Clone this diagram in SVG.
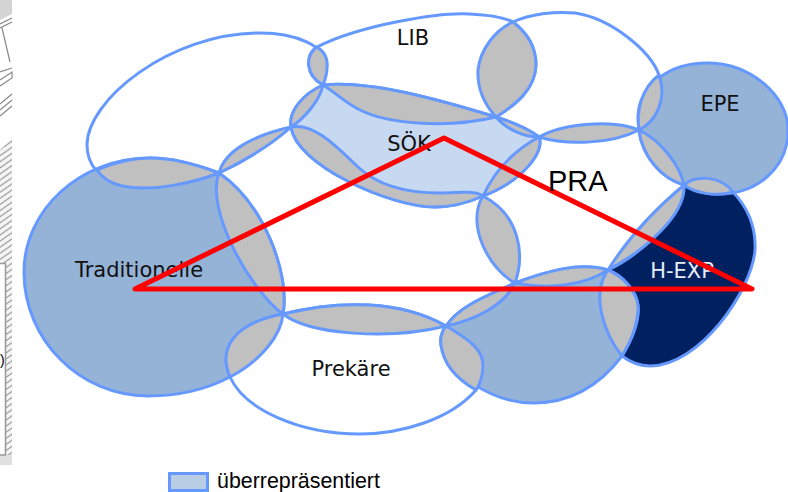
<svg xmlns="http://www.w3.org/2000/svg" width="788" height="492" viewBox="0 0 788 492">
<defs><pattern id="hp" width="6" height="5" patternUnits="userSpaceOnUse" patternTransform="rotate(-35)"><rect width="6" height="5" fill="#f6f6f6"/><path d="M0 2.5H6" stroke="#999" stroke-width="1.2"/></pattern></defs>
<style>
.s{stroke:#6699FF;stroke-width:3;stroke-linejoin:round}
.g{fill:#C0C0C0}.b{fill:#95B3D7}.l{fill:#C6D9F1}.d{fill:#002060}.w{fill:#fff}.n{fill:none}
text{font-family:"Liberation Sans",Arial,sans-serif;fill:#000}
.t{font-family:"DejaVu Sans",sans-serif;font-size:21px;text-anchor:middle;fill:#111}
.h{stroke:#888;stroke-width:1.2;fill:none}
</style>
<rect width="788" height="492" fill="#fff"/>
<g id="hatch">
<path d="M0 0H12V14L0 20Z" fill="#d4d4d4"/>
<path class="h" d="M0 24L12 18M0 28L12 22M2 28L10 62M0 72L12 68M0 80L12 72L12 78L0 86M0 104L12 94M0 110L12 100M0 116L12 106"/>
<rect x="0" y="138" width="12" height="127" fill="url(#hp)"/>
<path d="M12 138L0 150V138Z" fill="#fff"/>
<rect x="5" y="265" width="7" height="200" fill="url(#hp)"/>
<path d="M0 455H12V465H0Z" fill="#e0e0e0"/>
<path d="M-2 263.500H5.500V455H-2" fill="#fff" stroke="#999" stroke-width="1.500"/>
<text x="0" y="365" font-size="14">)</text>
</g>
<g id="topleft"><path class="w s" d="M219 173C190 184 150 192 122 186C100 180 87 165 87 145C87 100 170 33 260 33C295 33 327 45 327 68L323 85L291 127C265 150 240 163 219 173Z"/></g>
<g id="pra-top"><path class="n s" d="M513 22C530 14 555 11 575 13C610 18 650 50 659 75C668 100 655 122 639 130"/></g>
<g id="LIB"><path class="w s" d="M323 85C305 75 305 55 317 47C360 25 440 12 470 14C490 15 505 18 513 22C530 35 536 50 536 65C535 90 515 105 496 117C450 128 390 125 360 110Z"/><text class="t" x="413" y="45">LIB</text></g>
<g id="SOEK"><path class="l s" d="M291 127C288 110 305 93 323 85C370 80 440 100 496 117C515 123 530 130 539 137C545 150 525 180 483 196C465 204 450 207 435 207C390 207 296 165 291 127Z"/><text class="t" x="409" y="151">SÖK</text></g>
<g id="Traditionelle"><path class="b s" d="M219 173C190 162 170 158 150 158C80 158 24 210 24 272C24 340 80 396 148 396C175 396 205 390 230 377C262 360 281 335 283 314C290 275 265 205 219 173Z"/><text class="t" x="139" y="277">Traditionelle</text></g>
<g id="Prekaere"><path class="w s" d="M230 377C228 372 226 366 226 360C226 335 250 320 283 314C340 300 400 300 446 326C470 340 483 350 483 365C483 375 480 384 476 390C450 420 400 434 360 434C300 434 245 410 230 377Z"/><text class="t" x="351" y="376">Prekäre</text></g>
<g id="Mitte"><path class="b s" d="M446 326C460 305 490 295 515 283C550 270 580 262 608 270C630 280 640 300 638 312C635 335 628 345 622 356C600 385 570 403 533 403C490 403 445 370 441 345C440 340 441 332 446 326Z"/></g>
<g id="HEXP"><path class="d s" d="M608 270C640 255 684 215 684 185C695 175 720 175 733 192C750 210 756 230 755 250C752 290 700 366 650 366C640 366 630 362 622 356C632 340 640 320 638 305C636 290 622 275 608 270Z"/><text class="t" x="682" y="278" style="fill:#e8eef8">H-EXP</text></g>
<g id="EPE"><path class="b s" d="M684 185C655 175 638 150 638 118C638 85 670 63 707 63C750 63 788 95 788 130C788 170 755 194 718 194C705 194 692 190 684 185Z"/><text class="t" x="720" y="111">EPE</text></g>
<g id="lenses">
<path class="g s" d="M97 170C115 162 135 158 150 158C170 158 190 162 219 173C190 184 150 192 122 186C110 183 102 178 97 170Z"/>
<path class="g s" d="M219 173C265 205 290 275 283 314C250 290 205 210 219 173Z"/>
<path class="g s" d="M219 173C225 150 255 135 291 127C265 150 240 163 219 173Z"/>
<path class="g s" d="M291 127C288 110 305 93 323 85C320 100 305 118 291 127Z"/>
<path class="g s" d="M323 85C305 75 305 55 317 47C325 52 328 60 327 68C327 75 325 80 323 85Z"/>
<path class="g s" d="M323 85C370 80 440 100 496 117C450 128 390 125 360 110C345 103 335 92 323 85Z"/>
<path class="g s" d="M513 22C530 35 536 50 536 65C535 90 515 105 496 117C485 105 477 90 478 70C480 50 495 30 513 22Z"/>
<path class="g s" d="M496 117C515 123 530 130 539 137C525 137 507 130 496 117Z"/>
<path class="g s" d="M539 137C560 125 610 118 639 130C610 145 565 145 539 137Z"/>
<path class="g s" d="M659 75C668 100 655 122 639 130C636 110 642 88 659 75Z"/>
<path class="g s" d="M639 130C660 140 680 165 684 185C660 178 642 155 639 130Z"/>
<path class="g s" d="M684 185C695 175 720 175 733 192C715 197 695 193 684 185Z"/>
<path class="g s" d="M608 270C630 235 660 205 684 185C686 215 645 250 608 270Z"/>
<path class="g s" d="M608 270C630 280 640 300 638 312C635 335 628 345 622 356C605 335 590 295 608 270Z"/>
<path class="g s" d="M515 283C550 270 580 262 608 270C585 285 550 290 515 283Z"/>
<path class="g s" d="M446 326C460 305 490 295 515 283C505 305 475 320 446 326Z"/>
<path class="g s" d="M283 314C340 300 400 300 446 326C390 340 310 335 283 314Z"/>
<path class="g s" d="M283 314C281 335 262 360 230 377C228 372 226 366 226 360C226 335 250 320 283 314Z"/>
<path class="g s" d="M446 326C470 340 483 350 483 365C483 375 480 384 476 390C455 378 443 362 441 345C440 340 441 332 446 326Z"/>
<path class="g s" d="M483 196C520 215 525 255 515 283C490 270 465 225 483 196Z"/>
<path class="g s" d="M291 127C315 122 340 150 358 167C375 183 400 193 440 193C460 193 475 190 483 196C465 204 450 207 435 207C390 207 296 165 291 127Z"/>
<path class="g s" d="M483 196C495 170 515 150 539 137C545 150 525 180 483 196Z"/>
</g>
<g id="dreieck"><path d="M135 289L444 138L752 289Z" fill="none" stroke="#f00" stroke-width="5" stroke-linejoin="round"/></g>
<text x="548" y="191" font-size="29">PRA</text>
<g id="legende"><rect x="169.500" y="473.500" width="38" height="17" fill="#B9CDE5" stroke="#6699FF" stroke-width="3"/><text x="217" y="487.500" font-size="21.400">überrepräsentiert</text></g>
</svg>
